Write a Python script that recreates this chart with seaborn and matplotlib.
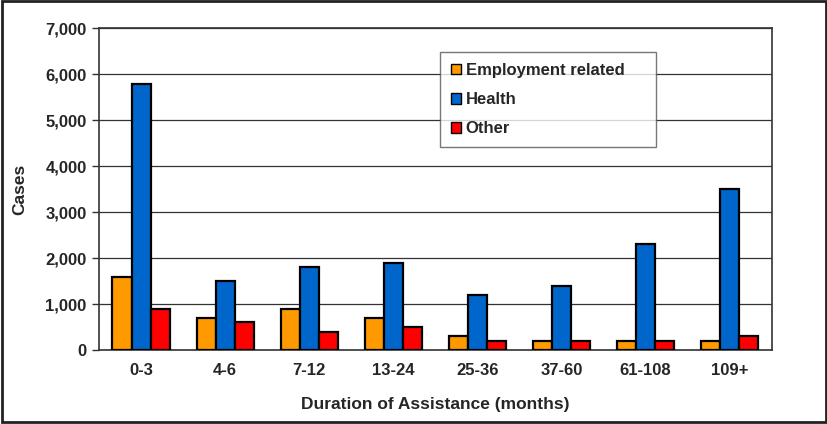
import matplotlib
matplotlib.use("Agg")
import matplotlib.pyplot as plt
import matplotlib.patches as mpatches
import seaborn as sns
import pandas as pd
import numpy as np

# Data
durations = ["0-3", "4-6", "7-12", "13-24", "25-36", "37-60", "61-108", "109+"]
employment = [1600, 700, 900, 700, 300, 200, 200, 200]
health = [5800, 1500, 1800, 1900, 1200, 1400, 2300, 3500]
other = [900, 600, 400, 500, 200, 200, 200, 300]

series_names = ["Employment related", "Health", "Other"]
colors = ["#FF9900", "#0066CC", "#FF0000"]

df = pd.DataFrame({
    "Duration": durations * 3,
    "Reason": [series_names[0]] * 8 + [series_names[1]] * 8 + [series_names[2]] * 8,
    "Cases": employment + health + other,
})

sns.set_style("white")
plt.rcParams["font.family"] = ["Liberation Sans", "DejaVu Sans"]
plt.rcParams["font.weight"] = "bold"

fig = plt.figure(figsize=(8.28, 4.24), dpi=100)
ax = fig.add_axes([0.1196, 0.1745, 0.8124, 0.7585])

sns.barplot(data=df, x="Duration", y="Cases", hue="Reason", order=durations,
            hue_order=series_names, palette=colors, width=0.68,
            edgecolor="black", linewidth=1.6, saturation=1, ax=ax, zorder=3)

ax.set_ylim(0, 7000)
ax.set_xlim(-0.5, len(durations) - 0.5)
ax.set_yticks(np.arange(0, 7001, 1000))
ax.set_yticklabels([f"{v:,}" for v in range(0, 7001, 1000)], fontsize=12, fontweight="bold")
ax.set_xticklabels(durations, fontsize=12, fontweight="bold")
ax.yaxis.grid(True, color="#333333", linewidth=0.9, zorder=0)
ax.set_axisbelow(True)

# Excel-style tick marks between categories
ax.tick_params(axis="x", which="major", length=0, pad=9)
ax.set_xticks(np.arange(-0.5, len(durations), 1), minor=True)
ax.tick_params(axis="x", which="minor", length=5, width=1, color="#333333", direction="out")
ax.tick_params(axis="y", which="major", length=5, width=1, color="#333333", direction="out", left=True, pad=4)

for side in ["left", "bottom", "right", "top"]:
    ax.spines[side].set_visible(True)
    ax.spines[side].set_color("#333333")
    ax.spines[side].set_linewidth(1.2)

ax.set_xlabel("Duration of Assistance (months)", fontsize=12.5, fontweight="bold", labelpad=14)
ax.set_ylabel("Cases", fontsize=12.5, fontweight="bold", labelpad=13)

ax.get_legend().remove()
handles = [mpatches.Patch(facecolor=c, edgecolor="black", linewidth=1, label=n)
           for c, n in zip(colors, series_names)]
leg = fig.legend(handles=handles, loc="upper left", bbox_to_anchor=(0.531, 0.877, 0.261, 0.0),
                 mode="expand", frameon=True, fancybox=False, edgecolor="#555555", fontsize=12,
                 handlelength=0.6, handleheight=0.6, handletextpad=0.3,
                 labelspacing=0.85, borderpad=0.65, borderaxespad=0)
leg.get_frame().set_linewidth(1)
for t in leg.get_texts():
    t.set_fontweight("bold")

# Border around the whole figure
fig.patches.append(mpatches.Rectangle((0.002, 0.004), 0.995, 0.993, transform=fig.transFigure,
                                      fill=False, edgecolor="#222222", linewidth=2))

fig.savefig("out.png", dpi=100)
